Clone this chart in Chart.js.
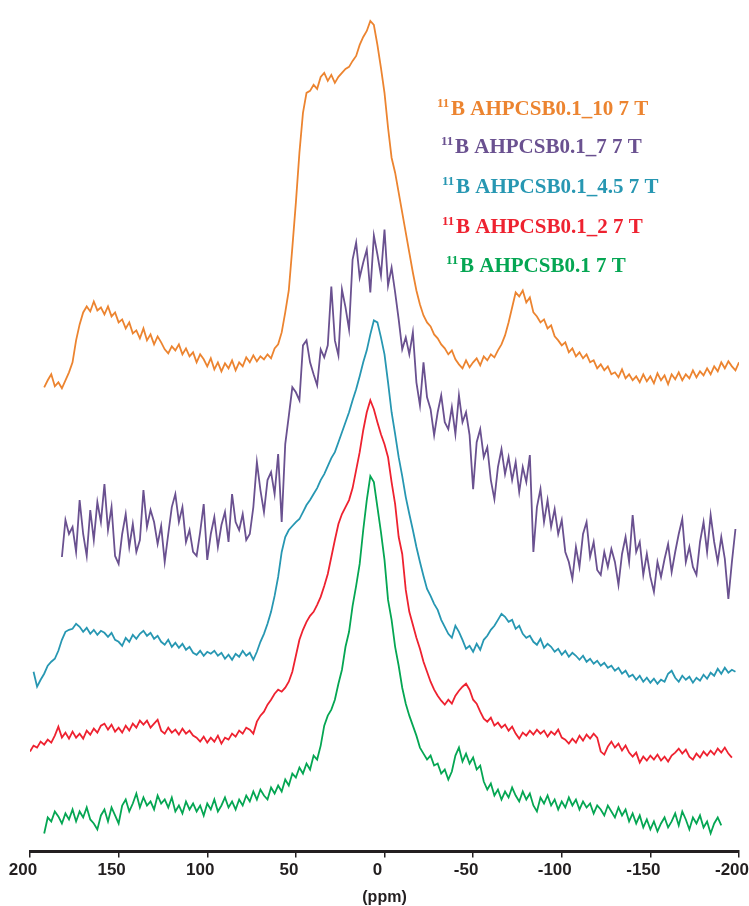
<!DOCTYPE html>
<html>
<head>
<meta charset="utf-8">
<title>11B NMR AHPCSB0.1</title>
<script src="https://cdn.jsdelivr.net/npm/chart.js@4.4.1/dist/chart.umd.min.js"></script>
<style>
  body { margin: 0; background: #fff; }
  #wrap { width: 749px; height: 906px; position: relative; }
</style>
</head>
<body>
<div id="wrap"><canvas id="nmrChart"></canvas></div>
<script>
// chemical shift axis (ppm), 2 ppm steps
const ppm = [
  200, 198, 196, 194, 192, 190, 188, 186, 184, 182,
  180, 178, 176, 174, 172, 170, 168, 166, 164, 162,
  160, 158, 156, 154, 152, 150, 148, 146, 144, 142,
  140, 138, 136, 134, 132, 130, 128, 126, 124, 122,
  120, 118, 116, 114, 112, 110, 108, 106, 104, 102,
  100, 98, 96, 94, 92, 90, 88, 86, 84, 82,
  80, 78, 76, 74, 72, 70, 68, 66, 64, 62,
  60, 58, 56, 54, 52, 50, 48, 46, 44, 42,
  40, 38, 36, 34, 32, 30, 28, 26, 24, 22,
  20, 18, 16, 14, 12, 10, 8, 6, 4, 2,
  0, -2, -4, -6, -8, -10, -12, -14, -16, -18,
  -20, -22, -24, -26, -28, -30, -32, -34, -36, -38,
  -40, -42, -44, -46, -48, -50, -52, -54, -56, -58,
  -60, -62, -64, -66, -68, -70, -72, -74, -76, -78,
  -80, -82, -84, -86, -88, -90, -92, -94, -96, -98,
  -100, -102, -104, -106, -108, -110, -112, -114, -116, -118,
  -120, -122, -124, -126, -128, -130, -132, -134, -136, -138,
  -140, -142, -144, -146, -148, -150, -152, -154, -156, -158,
  -160, -162, -164, -166, -168, -170, -172, -174, -176, -178,
  -180, -182, -184, -186, -188, -190, -192, -194, -196, -198,
  -200
];

// stacked intensities (a.u., offset included)
const s10 = [
  null, null,
  null, null, 465, 472, 478, 466, 470, 464, 472, 480,
  490, 512, 528, 540, 546, 541, 551, 542, 545, 538,
  546, 536, 540, 530, 533, 524, 530, 519, 522, 514,
  524, 512, 518, 508, 516, 510, 503, 499, 506, 502,
  508, 498, 504, 496, 500, 490, 498, 493, 486, 494,
  483, 490, 481, 489, 484, 492, 482, 490, 486, 495,
  490, 497, 491, 496, 493, 498, 494, 504, 508, 520,
  540, 562, 605, 650, 700, 740, 760, 762, 768, 764,
  776, 780, 772, 778, 770, 776, 780, 784, 786, 792,
  797, 808, 816, 822, 832, 828, 808, 785, 760, 725,
  695, 680, 660, 640, 620, 600, 580, 562, 548, 537,
  530, 526, 518, 514, 508, 504, 498, 502, 493, 488,
  484, 492, 485, 490, 494, 487, 496, 492, 498, 495,
  502, 508, 517, 530, 545, 560, 556, 562, 550, 555,
  540, 536, 530, 533, 524, 527, 516, 512, 507, 510,
  500, 504, 496, 500, 494, 498, 490, 492, 484, 488,
  482, 486, 478, 480, 475, 483, 474, 478, 472, 476,
  470, 478, 471, 476, 469, 479, 472, 477, 468, 478,
  473, 480, 472, 478, 474, 482, 475, 481, 477, 484,
  478, 486, 481, 490, 484, 491, 486, 482, 490
];

const s7 = [
  null, null,
  null, null, null, null, null, null, null, 295, 332, 318,
  325, 300, 352, 318, 296, 342, 312, 350, 330, 368,
  322, 345, 296, 288, 318, 338, 305, 328, 300, 312,
  362, 325, 342, 330, 308, 326, 290, 318, 345, 358,
  330, 345, 310, 322, 300, 296, 320, 348, 292, 318,
  335, 305, 327, 340, 310, 358, 330, 322, 338, 312,
  318, 345, 390, 362, 340, 372, 380, 358, 398, 330,
  408, 436, 465, 460, 452, 507, 512, 490, 478, 467,
  503, 495, 507, 566, 512, 497, 563, 545, 523, 593,
  610, 575, 590, 603, 560, 617, 598, 577, 623, 567,
  585, 560, 533, 503, 515, 498, 520, 470, 447, 490,
  455, 443, 417, 440, 457, 430, 423, 445, 418, 457,
  430, 440, 417, 363, 410, 423, 395, 405, 372, 353,
  385, 403, 378, 395, 372, 390, 360, 385, 370, 397,
  300, 345, 363, 330, 352, 325, 343, 318, 332, 300,
  290, 273, 305, 285, 318, 330, 295, 310, 282, 277,
  300, 285, 303, 290, 267, 298, 315, 290, 337, 300,
  310, 277, 298, 275, 260, 290, 275, 293, 308, 280,
  300, 318, 333, 290, 305, 285, 277, 310, 330, 300,
  337, 310, 290, 315, 293, 253, 290, 323, null
];

const s45 = [
  null, 180,
  165, 172, 178, 186, 190, 193, 201, 212, 220, 222,
  223, 228, 225, 220, 224, 218, 222, 217, 221, 219,
  215, 219, 212, 210, 206, 214, 210, 217, 213, 218,
  221, 216, 219, 213, 216, 210, 207, 212, 205, 209,
  204, 208, 202, 205, 199, 197, 201, 196, 200, 198,
  201, 196, 199, 193, 197, 192, 198, 195, 201, 196,
  199, 192, 200, 210, 218, 228, 240, 256, 275, 300,
  315, 322, 326, 330, 333, 340, 347, 352, 358, 364,
  372, 378, 386, 394, 400, 410, 420, 430, 440, 452,
  463, 476, 490, 502, 518, 532, 530, 515, 498, 470,
  440, 418, 395, 376, 355, 338, 322, 305, 290, 276,
  263, 256, 248, 242, 232, 225, 218, 214, 226, 220,
  212, 203, 206, 200, 208, 202, 212, 216, 222, 226,
  232, 238, 235, 230, 232, 223, 226, 218, 214, 216,
  210, 207, 213, 204, 208, 205, 200, 203, 197, 201,
  195, 199, 196, 192, 196, 190, 193, 188, 191, 186,
  189, 184, 186, 181, 184, 178, 181, 175, 177, 172,
  176, 170, 174, 169, 173, 168, 172, 170, 178, 181,
  174, 170, 176, 172, 175, 169, 174, 171, 177, 173,
  179, 176, 183, 178, 184, 179, 182, 180, null
];

const s2 = [
  100, 106,
  104, 110, 107, 112, 109, 116, 125, 114, 119, 113,
  120, 114, 118, 113, 121, 117, 123, 119, 126, 128,
  122, 127, 120, 124, 119, 126, 121, 128, 124, 131,
  127, 131, 124, 128, 132, 121, 118, 124, 119, 122,
  117, 123, 118, 121, 116, 114, 110, 115, 109, 114,
  110, 116, 108, 114, 112, 118, 115, 121, 118, 124,
  122, 118, 130, 136, 140, 147, 152, 158, 162, 160,
  164, 170, 180, 196, 212, 222, 230, 236, 240, 247,
  255, 266, 278, 295, 312, 328, 338, 345, 352, 364,
  382, 400, 422, 440, 452, 443, 430, 418, 408, 395,
  370, 348, 315, 298, 262, 240, 227, 214, 203, 190,
  180, 170, 162, 156, 151, 147, 152, 148, 156, 161,
  165, 168, 162, 152, 148, 140, 133, 130, 134, 126,
  129, 124, 127, 121, 125, 118, 113, 119, 116, 121,
  117, 122, 118, 121, 115, 120, 117, 122, 114, 112,
  108, 113, 109, 116, 111, 117, 113, 118, 114, 100,
  97, 105, 110, 104, 108, 101, 106, 99, 95, 99,
  89, 95, 91, 96, 92, 97, 91, 95, 90, 96,
  99, 103, 98, 102, 95, 92, 98, 94, 100, 96,
  101, 97, 103, 99, 104, 98, 94, null, null
];

const s0 = [
  null, null,
  null, null, 18, 34, 30, 40, 35, 28, 38, 32,
  42, 30, 40, 34, 44, 32, 28, 22, 36, 42,
  30, 44, 36, 28, 46, 52, 40, 48, 58, 44,
  54, 46, 50, 42, 56, 48, 52, 44, 54, 40,
  46, 38, 50, 42, 48, 40, 46, 36, 48, 42,
  52, 40, 46, 54, 44, 50, 42, 52, 46, 56,
  50, 60, 52, 62, 56, 52, 64, 58, 66, 60,
  72, 66, 78, 74, 84, 78, 88, 82, 96, 92,
  106, 126, 136, 142, 152, 168, 182, 205, 220, 246,
  266, 288, 322, 352, 376, 370, 345, 320, 292, 252,
  232, 205, 186, 164, 148, 136, 126, 116, 104, 98,
  92, 96, 86, 88, 78, 82, 72, 80, 96, 104,
  90, 98, 88, 94, 82, 86, 70, 62, 68, 56,
  62, 52, 60, 54, 64, 56, 50, 60, 52, 58,
  46, 40, 54, 48, 56, 46, 52, 42, 50, 44,
  54, 46, 52, 42, 50, 44, 48, 38, 46, 42,
  36, 46, 40, 34, 44, 36, 42, 30, 38, 28,
  36, 24, 32, 22, 30, 20, 28, 34, 24, 30,
  38, 26, 40, 32, 22, 34, 28, 36, 24, 30,
  18, 28, 34, 26, null, null, null, null, null
];

const seriesNames = [
  'B AHPCSB0.1_10 7 T',
  'B AHPCSB0.1_7 7 T',
  'B AHPCSB0.1_4.5 7 T',
  'B AHPCSB0.1_2 7 T',
  'B AHPCSB0.1 7 T'
];
const seriesColors = ['#ec8430', '#6a5190', '#2797b2', '#ee2230', '#05a653'];
const seriesData = [s10, s7, s45, s2, s0];

const toPoints = (values) => ppm.map((x, i) => ({ x: x, y: values[i] }));

// colored sample names, top right, with the 11 superscript
const nameLabels = {
  id: 'nameLabels',
  afterDraw(chart, args, opts) {
    const ctx = chart.ctx;
    ctx.save();
    ctx.textBaseline = 'alphabetic';
    seriesNames.forEach((name, i) => {
      const x = opts.x[i];
      const y = opts.y[i];
      ctx.fillStyle = seriesColors[i];
      ctx.font = 'bold 13px "Liberation Serif"';
      ctx.fillText('11', x, y - 8);
      ctx.font = 'bold 21px "Liberation Serif"';
      ctx.fillText(name, x + 14, y);
    });
    ctx.restore();
  }
};

new Chart(document.getElementById('nmrChart'), {
  type: 'line',
  data: {
    datasets: seriesData.map((values, i) => ({
      label: seriesNames[i],
      data: toPoints(values),
      borderColor: seriesColors[i],
      backgroundColor: seriesColors[i],
      borderWidth: 1.8,
      pointRadius: 0,
      tension: 0,
      spanGaps: false
    }))
  },
  options: {
    responsive: true,
    maintainAspectRatio: false,
    animation: false,
    layout: {
      padding: { top: 13, left: 30, right: 10, bottom: -1 }
    },
    scales: {
      x: {
        type: 'linear',
        reverse: true,
        min: -200,
        max: 200,
        afterFit: (scale) => {
          scale.paddingLeft = 0;
          scale.paddingRight = 0;
        },
        ticks: {
          stepSize: 50,
          color: '#231f20',
          padding: 3,
          labelOffset: -7,
          font: { family: '"Liberation Sans"', weight: 'bold', size: 17 }
        },
        grid: {
          drawOnChartArea: false,
          drawTicks: true,
          tickLength: 6,
          color: '#231f20',
          lineWidth: 1.5
        },
        border: { display: true, color: '#231f20', width: 3 },
        title: {
          display: true,
          text: '(ppm)',
          color: '#231f20',
          padding: { top: 4, bottom: 0 },
          font: { family: '"Liberation Sans"', weight: 'bold', size: 16 }
        }
      },
      y: {
        display: false,
        min: 0,
        max: 840
      }
    },
    plugins: {
      legend: { display: false },
      tooltip: { enabled: false },
      nameLabels: {
        x: [437, 441, 442, 442, 446],
        y: [115, 153, 193, 233, 272]
      }
    }
  },
  plugins: [nameLabels]
});
</script>
</body>
</html>
